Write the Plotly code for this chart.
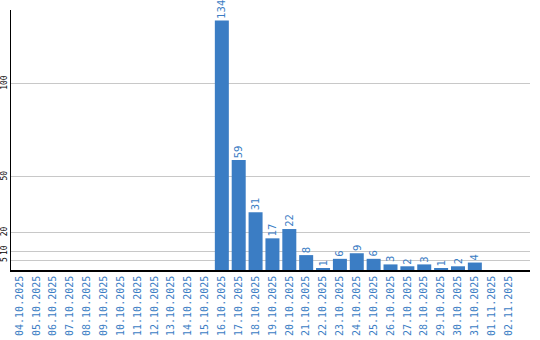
import plotly.graph_objects as go

dates = ["04.10.2025", "05.10.2025", "06.10.2025", "07.10.2025", "08.10.2025",
         "09.10.2025", "10.10.2025", "11.10.2025", "12.10.2025", "13.10.2025",
         "14.10.2025", "15.10.2025", "16.10.2025", "17.10.2025", "18.10.2025",
         "19.10.2025", "20.10.2025", "21.10.2025", "22.10.2025", "23.10.2025",
         "24.10.2025", "25.10.2025", "26.10.2025", "27.10.2025", "28.10.2025",
         "29.10.2025", "30.10.2025", "31.10.2025", "01.11.2025", "02.11.2025"]
values = [0, 0, 0, 0, 0, 0, 0, 0, 0, 0, 0, 0,
          134, 59, 31, 17, 22, 8, 1, 6, 9, 6, 3, 2, 3, 1, 2, 4, 0, 0]
y_ticks = [5, 10, 20, 50, 100]

blue = "#3b7dc4"

fig = go.Figure(go.Bar(
    x=dates, y=values,
    marker=dict(color=blue, line=dict(width=0)),
    cliponaxis=False, hoverinfo="skip",
))

for d, v in zip(dates, values):
    if v > 0:
        fig.add_annotation(
            x=d, y=v, text=str(v), showarrow=False, textangle=-90,
            xanchor="center", yanchor="bottom", yshift=0,
            font=dict(family="DejaVu Sans", size=10, color=blue),
        )

fig.update_layout(
    width=540, height=340,
    margin=dict(l=11, r=10, t=10, b=70, autoexpand=False),
    paper_bgcolor="white", plot_bgcolor="white",
    bargap=0.17, showlegend=False,
    xaxis=dict(
        type="category", range=[-0.5, 30.27], automargin=False,
        tickangle=-90, ticks="", showgrid=False,
        tickfont=dict(family="DejaVu Sans Mono", size=10, color=blue),
        showline=True, linecolor="black", linewidth=1.5,
        zeroline=False,
    ),
    yaxis=dict(
        range=[0, 139.6], tickvals=y_ticks, tickangle=-90, ticks="",
        automargin=False,
        tickfont=dict(family="DejaVu Sans Mono", size=8, color="black"),
        showgrid=True, gridcolor="#c8c8c8", gridwidth=1,
        showline=True, linecolor="black", linewidth=1,
        zeroline=False,
    ),
)

fig.write_html("out.html")
